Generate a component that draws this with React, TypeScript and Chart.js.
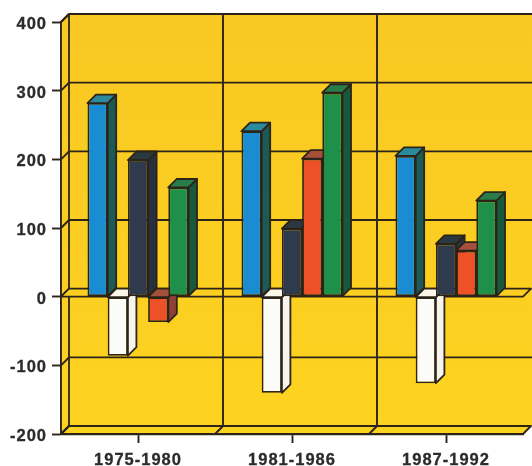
import React, { useEffect, useRef } from "react";
import { Chart, registerables } from "chart.js";

Chart.register(...registerables);

const categories = ["1975-1980", "1981-1986", "1987-1992"];
const blueValues = [282, 241, 205];
const whiteValues = [-86, -140, -126];
const darkValues = [199, 99, 77];
const redValues = [-37, 201, 67];
const greenValues = [159, 297, 140];

const frontColors = ["#1a8dd2", "#fbfbf8", "#2f3a4c", "#ee5128", "#1f9049"];
const topColors = ["#2b8a9c", "#fbf6e8", "#2c3840", "#a5503a", "#2a7d49"];
const sideColors = ["#1c5a55", "#f6f4ec", "#26303f", "#8f4034", "#17593c"];

const INK = "#2c2419";
const YELLOW_TOP = "#f9c823";
const YELLOW_BOTTOM = "#fdd320";
const DX = 8;
const DY = 8;
const BAR_D = 8.5;
const WALL_RUN = 2;

function poly(ctx: CanvasRenderingContext2D, pts: number[][], fill: any, width = 1.8) {
  ctx.beginPath();
  pts.forEach((p, i) => (i ? ctx.lineTo(p[0], p[1]) : ctx.moveTo(p[0], p[1])));
  ctx.closePath();
  if (fill) {
    ctx.fillStyle = fill;
    ctx.fill();
  }
  ctx.lineWidth = width;
  ctx.strokeStyle = INK;
  ctx.lineJoin = "round";
  ctx.stroke();
}

function line(ctx: CanvasRenderingContext2D, a: number[], b: number[], width = 1.9) {
  ctx.beginPath();
  ctx.moveTo(a[0], a[1]);
  ctx.lineTo(b[0], b[1]);
  ctx.lineWidth = width;
  ctx.strokeStyle = INK;
  ctx.stroke();
}

function drawFaces(chart: any, index: number) {
  const meta = chart.getDatasetMeta(index);
  const ctx = chart.ctx;
  ctx.save();
  meta.data.forEach((bar: any) => {
    const left = bar.x - bar.width / 2;
    const right = bar.x + bar.width / 2;
    const top = Math.min(bar.y, bar.base);
    const bottom = Math.max(bar.y, bar.base);
    poly(ctx, [[right, top], [right + BAR_D, top - BAR_D], [right + BAR_D, bottom - BAR_D], [right, bottom]], sideColors[index]);
    poly(ctx, [[left, top], [left + BAR_D, top - BAR_D], [right + BAR_D, top - BAR_D], [right, top]], topColors[index]);
  });
  ctx.restore();
}

const depthPlugin = {
  id: "depth",
  beforeDraw(chart: any) {
    chart.ctx.letterSpacing = "1px";
    // labels sit a little below their ticks in the reference
    chart.scales.y.getLabelItems().forEach((item: any) => {
      if (!item.shifted) {
        item.options.translation[1] += 2.5;
        item.shifted = true;
      }
    });
  },
  beforeDatasetsDraw(chart: any) {
    const { ctx, chartArea: a, scales } = chart;
    const y = scales.y;
    const x = scales.x;
    const wallRight = a.right + DX + WALL_RUN;
    const paint = ctx.createLinearGradient(0, a.top - DY, 0, a.bottom);
    paint.addColorStop(0, YELLOW_TOP);
    paint.addColorStop(1, YELLOW_BOTTOM);
    ctx.save();
    // back wall, side wall and floor
    ctx.fillStyle = paint;
    ctx.fillRect(a.left + DX, a.top - DY, wallRight - a.left - DX, a.bottom - a.top);
    poly(ctx, [[a.left, a.top], [a.left + DX, a.top - DY], [a.left + DX, a.bottom - DY], [a.left, a.bottom]], paint);
    poly(ctx, [[a.left, a.bottom], [a.left + DX, a.bottom - DY], [a.right + DX, a.bottom - DY], [a.right, a.bottom]], paint);
    line(ctx, [a.left + DX, a.top - DY], [wallRight, a.top - DY]);
    // horizontal grid on the back wall
    y.ticks.forEach((t: any) => {
      const py = y.getPixelForValue(t.value);
      line(ctx, [a.left, py], [a.left + DX, py - DY]);
      if (t.value !== 0 && t.value !== y.min) line(ctx, [a.left + DX, py - DY], [wallRight, py - DY]);
    });
    // plane at zero
    const z = y.getPixelForValue(0);
    poly(ctx, [[a.left, z], [a.left + DX, z - DY], [a.right + DX, z - DY], [a.right, z]], paint);
    // vertical grid between categories
    const step = (a.right - a.left) / categories.length;
    for (let i = 1; i < categories.length; i++) {
      const px = x.getPixelForValue(i) - step / 2;
      line(ctx, [px + DX, a.top - DY], [px + DX, a.bottom - DY]);
      line(ctx, [px, a.bottom], [px + DX, a.bottom - DY]);
    }
    ctx.restore();
    // left to right, so that each bar covers the depth of the one before it
    chart.data.datasets.forEach((_: any, i: number) => {
      drawFaces(chart, i);
      chart.getDatasetMeta(i).controller.draw();
    });
  },
  beforeDatasetDraw() {
    return false;
  },
  afterDraw(chart: any) {
    chart.ctx.letterSpacing = "0px";
  },
};

const seriesValues = [blueValues, whiteValues, darkValues, redValues, greenValues];

export default function App() {
  const ref = useRef<HTMLCanvasElement>(null);
  useEffect(() => {
    const chart = new Chart(ref.current as HTMLCanvasElement, {
      type: "bar",
      data: {
        labels: categories,
        datasets: seriesValues.map((values, i) => ({
          data: values,
          backgroundColor: frontColors[i],
          borderColor: INK,
          borderWidth: 1.8,
          borderSkipped: false,
        })),
      },
      plugins: [depthPlugin],
      options: {
        animation: false,
        responsive: false,
        devicePixelRatio: 1,
        layout: { autoPadding: false, padding: { top: 22, right: 9, left: 0, bottom: 0 } },
        plugins: { legend: { display: false }, tooltip: { enabled: false } },
        datasets: { bar: { categoryPercentage: 0.656, barPercentage: 1 } },
        scales: {
          x: {
            afterFit: (s: any) => {
              s.height = 32;
            },
            grid: { offset: false, drawOnChartArea: false, tickLength: 9, tickColor: INK, tickWidth: 1.9 },
            border: { color: INK, width: 2.2 },
            ticks: {
              color: "#2b2b2b",
              padding: 8,
              maxRotation: 0,
              textStrokeColor: "#2b2b2b",
              textStrokeWidth: 0.3,
              font: { family: "'Liberation Sans'", weight: "bold", size: 16.5 },
            },
          },
          y: {
            min: -200,
            max: 400,
            afterFit: (s: any) => {
              s.width = 61;
            },
            grid: { drawOnChartArea: false, tickLength: 9, tickColor: INK, tickWidth: 1.9 },
            border: { color: INK, width: 2.2 },
            ticks: {
              stepSize: 100,
              color: "#2b2b2b",
              padding: 5,
              textStrokeColor: "#2b2b2b",
              textStrokeWidth: 0.3,
              font: { family: "'Liberation Sans'", weight: "bold", size: 16.5 },
            },
          },
        },
      } as any,
    });
    return () => chart.destroy();
  }, []);
  return (
    <div style={{ position: "absolute", left: 0, top: 0, width: 532, height: 466 }}>
      <canvas ref={ref} width={532} height={466} style={{ display: "block" }} />
    </div>
  );
}
